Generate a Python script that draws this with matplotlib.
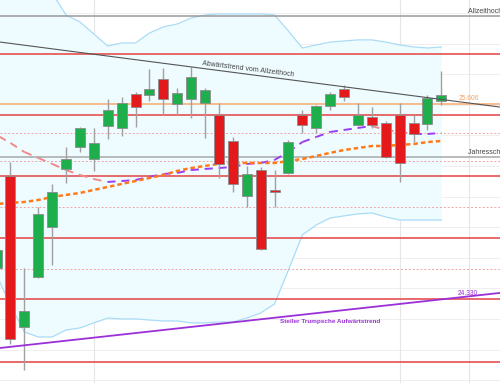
"""Nasdaq-style candlestick chart with Bollinger bands, MAs and trend lines."""
import matplotlib
matplotlib.use("Agg")
import matplotlib.pyplot as plt
import numpy as np

# daily candles (index 0 is only partly visible at the left edge)
opens = [24533, 25135, 24148, 24475, 24802, 25181, 25325, 25246, 25462, 25449,
         25671, 25665, 25770, 25606, 25639, 25613, 25534, 25364, 25004, 25174,
         25044, 25155, 25534, 25449, 25593, 25704, 25469, 25521, 25482, 25534,
         25482, 25475, 25626]
highs = [24684, 25227, 24533, 24932, 25083, 25325, 25455, 25449, 25639, 25652,
         25685, 25835, 25841, 25711, 25848, 25711, 25613, 25390, 25201, 25194,
         25174, 25371, 25567, 25600, 25684, 25730, 25613, 25586, 25495, 25613,
         25534, 25665, 25822]
lows = [24507, 24036, 23866, 24470, 24553, 25089, 25292, 25168, 25377, 25397,
        25456, 25626, 25534, 25534, 25514, 25384, 25122, 25030, 24932, 24652,
        24932, 25148, 25416, 25416, 25567, 25626, 25462, 25449, 25252, 25096,
        25357, 25436, 25599]
closes = [24651, 24069, 24252, 24887, 25030, 25246, 25449, 25351, 25567, 25613,
          25586, 25704, 25639, 25678, 25783, 25698, 25214, 25083, 25148, 24658,
          25030, 25357, 25469, 25593, 25671, 25652, 25534, 25469, 25259, 25220,
          25410, 25645, 25665]

# bollinger bands
bb_upper = [26319, 26410, 26469, 26424, 26332, 26188, 26142, 26064, 25985, 26005,
            26005, 26070, 26110, 26129, 26168, 26188, 26195, 26195, 26195, 26195,
            26188, 26083, 25972, 25992, 26011, 26018, 26025, 26025, 26011, 25992,
            25979, 25972, 25979]
bb_mid = [25403, 25351, 25292, 25253, 25214, 25174, 25142, 25115, 25096, 25102,
          25109, 25129, 25148, 25155, 25174, 25181, 25187, 25194, 25214, 25220,
          25240, 25292, 25357, 25390, 25423, 25436, 25449, 25462, 25436, 25423,
          25410, 25410, 25416]
bb_lower = [24488, 24291, 24115, 24082, 24082, 24128, 24141, 24174, 24206, 24200,
            24200, 24193, 24187, 24187, 24174, 24174, 24180, 24180, 24206, 24239,
            24298, 24520, 24749, 24815, 24860, 24874, 24887, 24893, 24867, 24847,
            24847, 24847, 24847]
# slower moving average (orange dotted)
ma_slow = [24952, 24959, 24965, 24978, 24998, 25011, 25024, 25044, 25063, 25083,
           25102, 25122, 25142, 25168, 25187, 25201, 25214, 25220, 25220, 25220,
           25220, 25233, 25246, 25266, 25286, 25305, 25318, 25331, 25331, 25338,
           25344, 25357, 25364]

# marked levels
all_time_high = 26182
resistance_red = [25933, 25534, 25135, 24730, 24330, 23919]
support_dotted = [25416, 25233, 24932, 24527]
year_close = 25259
orange_level = 25606

# trend lines: (x0, y0, x1, y1) in candle index / price
down_trend = (0.25, 26011, 36.2, 25586)
up_trend = (0.25, 24010, 36.2, 24370)

month_marks = [7, 29, 34]

fig = plt.figure(figsize=(5.0, 3.83), dpi=100)
ax = fig.add_axes([0, 0, 1, 1])
ax.set_xlim(0.25, 36.22)
ax.set_ylim(23781, 26286)
ax.axis("off")

x = np.arange(len(opens))

# faint grid
for g in range(23800, 26400, 200):
    ax.axhline(g, color="#ececec", lw=0.6, zorder=0)
for m in month_marks:
    ax.axvline(m, color="#e6e6e6", lw=0.8, zorder=0)

# bollinger area
ax.fill_between(x, bb_lower, bb_upper, color="#effcff", zorder=0.5, lw=0)
ax.plot(x, bb_upper, color="#aadcf6", lw=0.9, zorder=1)
ax.plot(x, bb_lower, color="#aadcf6", lw=0.9, zorder=1)

# horizontal levels
ax.axhline(all_time_high, color="#9a9a9a", lw=1.1, zorder=1.5)
ax.axhline(year_close, color="#a8a8a8", lw=1.1, zorder=1.5)
for lvl in resistance_red:
    ax.axhline(lvl, color="#e65050", lw=1.2, zorder=1.5)
for lvl in support_dotted:
    ax.axhline(lvl, color="#f0a4a4", lw=0.7, ls=(0, (2, 2)), zorder=1.5)
ax.axhline(orange_level, color="#f8b07a", lw=1.2, zorder=1.5)

# trend lines
ax.plot(down_trend[::2], down_trend[1::2], color="#555555", lw=0.8, zorder=4)
ax.plot(up_trend[::2], up_trend[1::2], color="#9b30d8", lw=1.3, zorder=4)

# middle band: purple when rising, pink when falling
for i in range(len(bb_mid) - 1):
    col = "#9b3cf5" if bb_mid[i + 1] >= bb_mid[i] else "#f08a8a"
    ax.plot(x[i:i + 2], bb_mid[i:i + 2], color=col, lw=1.4,
            ls=(0, (4, 3)), zorder=2)
ax.plot(x, ma_slow, color="#ff7a1a", lw=1.8, ls=(0, (1.8, 1.2)), zorder=2)

# candles
for i in range(len(opens)):
    o, h, l, c = opens[i], highs[i], lows[i], closes[i]
    up = c >= o
    ax.vlines(x[i], l, h, color="#a0a0a0", lw=1.0, zorder=3)
    bottom = min(o, c)
    height = max(abs(c - o), 12)
    ax.bar(x[i], height, bottom=bottom, width=0.72,
           color="#1fae4c" if up else "#e3191c",
           edgecolor="#8c8c8c", linewidth=0.6, zorder=3.5)

# labels (the two right-hand ones run off the edge as in the original)
font = dict(family="Liberation Sans")
ax.text(33.92, 26214, "Allzeithoch 26.182", fontsize=5.0, color="#444444",
        va="center", ha="left", **font)
ax.text(33.92, 25286, "Jahresschluss 2025", fontsize=5.0, color="#444444",
        va="center", ha="left", **font)
ax.text(33.27, 25645, "25.606", fontsize=4.8, color="#f6a060",
        va="center", ha="left", **font)
ax.text(33.2, 24367, "24.330", fontsize=4.8, color="#9b30d8",
        va="center", ha="left", **font)
ax.text(18.1, 25835, "Abwärtstrend vom Allzeithoch", fontsize=5.0,
        color="#444444", va="center", ha="center", rotation=-7.1, **font)
ax.text(24.0, 24180, "Steiler Trumpsche Aufwärtstrend", fontsize=4.6,
        color="#9b30d8", va="center", ha="center", fontweight="bold", **font)

fig.savefig("out.png", dpi=100)
